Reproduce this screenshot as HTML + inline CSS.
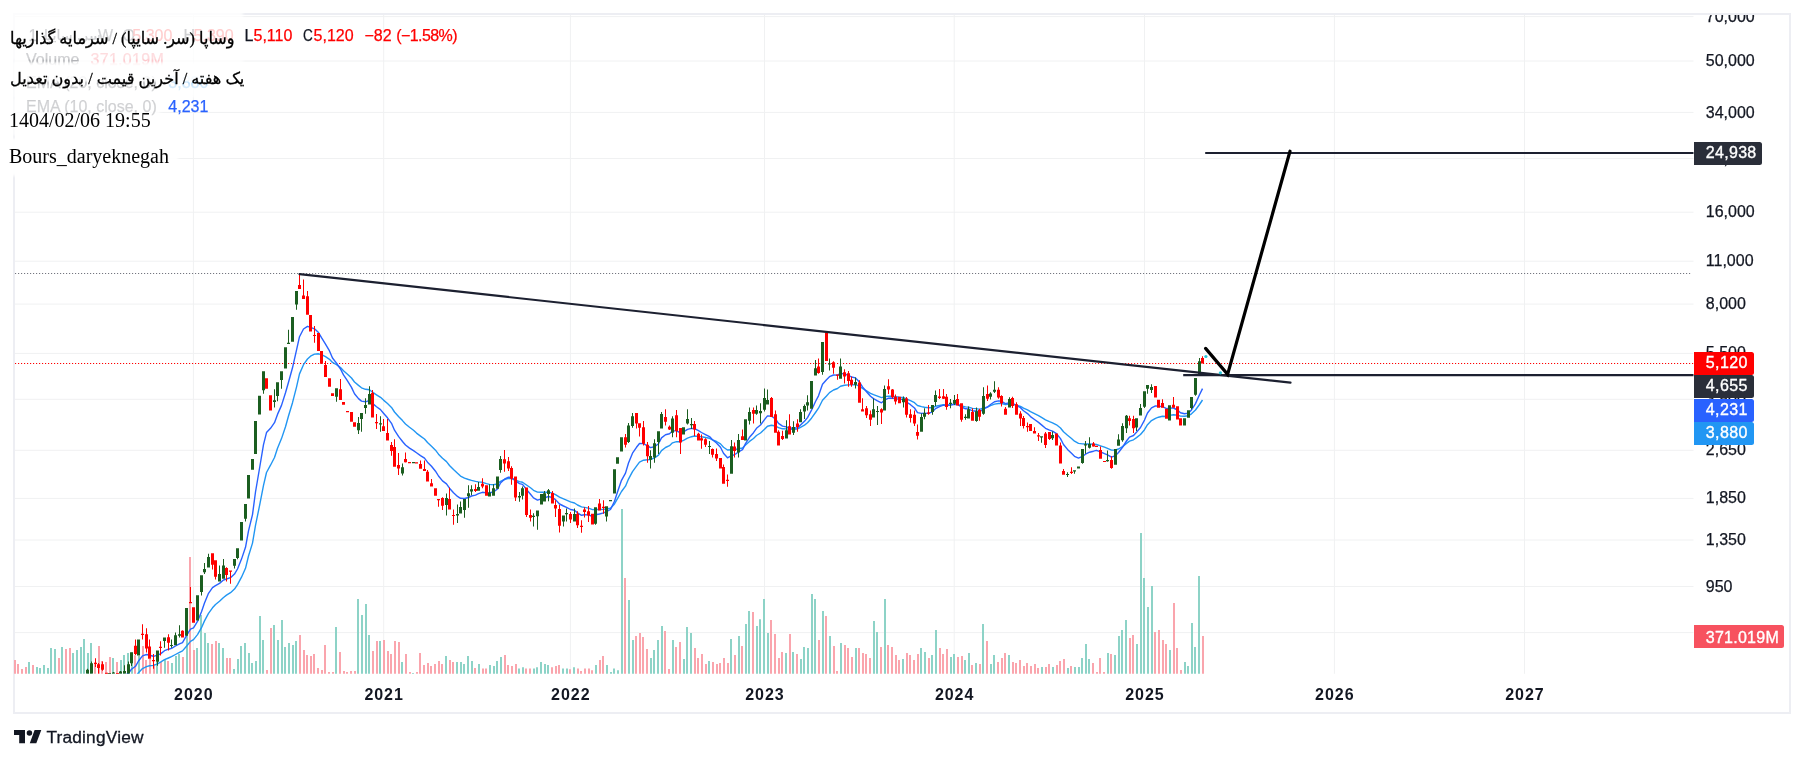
<!DOCTYPE html><html><head><meta charset="utf-8"><title>chart</title><style>

html,body{margin:0;padding:0;background:#fff;}
body{width:1804px;height:761px;position:relative;overflow:hidden;font-family:"Liberation Sans", Arial, sans-serif;color:#131722;}
.abs{position:absolute;white-space:nowrap;}
.frame{position:absolute;left:13px;top:13px;width:1774px;height:697px;border:2px solid #edeef3;box-sizing:content-box;}
.pl{position:absolute;left:1705.8px;font-size:16px;line-height:18px;height:18px;white-space:nowrap;color:#131722;-webkit-text-stroke:0.25px #131722;}
.tag{position:absolute;left:1694px;height:22.7px;border-radius:0 2.5px 2.5px 0;color:#fff;font-size:16px;line-height:22.7px;padding-left:11.8px;box-sizing:border-box;white-space:nowrap;overflow:hidden;-webkit-text-stroke:0.35px #fff;}
.yr{position:absolute;top:686.3px;font-size:16px;font-weight:bold;line-height:18px;width:60px;margin-left:-30px;text-align:center;letter-spacing:0.95px;color:#131722;}
.lg{position:absolute;font-size:16px;line-height:18px;white-space:nowrap;-webkit-text-stroke:0.25px;}
.ov{position:absolute;font-family:"Liberation Serif", "DejaVu Sans", serif;color:#000;white-space:nowrap;}
.fa{-webkit-text-stroke:0.3px #000;}
.fade{position:absolute;background:#fff;filter:blur(1.5px);}

</style></head><body>
<div class="frame"></div>
<div id="wrap" style="position:absolute;left:0;top:0;width:1804px;height:761px;will-change:transform;transform:translateZ(0)">
<svg width="1804" height="761" viewBox="0 0 1804 761" style="position:absolute;left:0;top:0">
<defs><clipPath id="pane"><rect x="15" y="15" width="1678.5" height="658.8"/></clipPath></defs>
<path d="M15 16.6H1693.5M15 61.0H1693.5M15 112.4H1693.5M15 158.5H1693.5M15 212.2H1693.5M15 261.2H1693.5M15 304.1H1693.5M15 353.4H1693.5M15 399.3H1693.5M15 450.3H1693.5M15 498.4H1693.5M15 540.0H1693.5M15 586.5H1693.5M15 632.6H1693.5M193.4 15V673.8M383.7 15V673.8M570.4 15V673.8M764.5 15V673.8M954.2 15V673.8M1144.5 15V673.8M1334.4 15V673.8M1524.5 15V673.8" stroke="#f0f1f2" stroke-width="1" fill="none"/>
<path d="M28 662.0h2V673.8h-2zM36 666.9h2V673.8h-2zM39 668.0h2V673.8h-2zM43 665.0h2V673.8h-2zM47 668.0h2V673.8h-2zM50 648.1h2V673.8h-2zM54 649.1h2V673.8h-2zM61 647.1h2V673.8h-2zM72 653.0h2V673.8h-2zM76 650.0h2V673.8h-2zM80 647.1h2V673.8h-2zM83 639.1h2V673.8h-2zM87 653.0h2V673.8h-2zM90 643.0h2V673.8h-2zM112 657.9h2V673.8h-2zM120 659.9h2V673.8h-2zM123 655.0h2V673.8h-2zM127 653.0h2V673.8h-2zM131 652.4h2V673.8h-2zM138 656.0h2V673.8h-2zM156 662.0h2V673.8h-2zM164 658.9h2V673.8h-2zM171 663.0h2V673.8h-2zM175 656.0h2V673.8h-2zM178 654.0h2V673.8h-2zM186 635.1h2V673.8h-2zM196 648.1h2V673.8h-2zM200 615.1h2V673.8h-2zM204 633.0h2V673.8h-2zM207 643.0h2V673.8h-2zM218 643.0h2V673.8h-2zM222 648.1h2V673.8h-2zM233 669.0h2V673.8h-2zM237 658.9h2V673.8h-2zM240 646.0h2V673.8h-2zM244 643.0h2V673.8h-2zM248 653.0h2V673.8h-2zM251 663.0h2V673.8h-2zM255 661.1h2V673.8h-2zM259 616.0h2V673.8h-2zM262 640.0h2V673.8h-2zM273 625.1h2V673.8h-2zM277 640.0h2V673.8h-2zM281 620.0h2V673.8h-2zM284 647.1h2V673.8h-2zM288 643.0h2V673.8h-2zM292 645.0h2V673.8h-2zM295 641.0h2V673.8h-2zM335 627.0h2V673.8h-2zM357 599.1h2V673.8h-2zM361 615.1h2V673.8h-2zM365 604.0h2V673.8h-2zM368 635.1h2V673.8h-2zM379 641.0h2V673.8h-2zM401 662.0h2V673.8h-2zM412 673.1h2V673.8h-2zM445 656.0h2V673.8h-2zM456 662.0h2V673.8h-2zM460 662.0h2V673.8h-2zM463 664.0h2V673.8h-2zM467 656.0h2V673.8h-2zM471 661.1h2V673.8h-2zM478 664.0h2V673.8h-2zM489 665.0h2V673.8h-2zM493 666.0h2V673.8h-2zM496 661.0h2V673.8h-2zM500 657.0h2V673.8h-2zM518 668.4h2V673.8h-2zM522 667.2h2V673.8h-2zM533 668.4h2V673.8h-2zM536 667.2h2V673.8h-2zM540 662.0h2V673.8h-2zM544 664.1h2V673.8h-2zM547 665.0h2V673.8h-2zM562 668.4h2V673.8h-2zM566 668.4h2V673.8h-2zM573 667.2h2V673.8h-2zM595 665.0h2V673.8h-2zM606 665.0h2V673.8h-2zM610 672.1h2V673.8h-2zM613 668.4h2V673.8h-2zM617 670.2h2V673.8h-2zM621 509.0h2V673.8h-2zM628 600.0h2V673.8h-2zM632 640.0h2V673.8h-2zM650 658.0h2V673.8h-2zM653 649.9h2V673.8h-2zM657 640.0h2V673.8h-2zM661 626.0h2V673.8h-2zM672 640.0h2V673.8h-2zM683 658.9h2V673.8h-2zM686 627.0h2V673.8h-2zM690 632.9h2V673.8h-2zM708 661.0h2V673.8h-2zM730 639.1h2V673.8h-2zM738 636.1h2V673.8h-2zM745 624.1h2V673.8h-2zM748 611.1h2V673.8h-2zM756 626.1h2V673.8h-2zM759 619.2h2V673.8h-2zM763 599.1h2V673.8h-2zM767 633.0h2V673.8h-2zM785 653.0h2V673.8h-2zM792 652.0h2V673.8h-2zM800 658.9h2V673.8h-2zM803 647.1h2V673.8h-2zM807 648.1h2V673.8h-2zM811 594.0h2V673.8h-2zM814 599.1h2V673.8h-2zM822 611.1h2V673.8h-2zM829 636.1h2V673.8h-2zM840 643.0h2V673.8h-2zM855 648.1h2V673.8h-2zM873 621.0h2V673.8h-2zM876 632.0h2V673.8h-2zM884 599.1h2V673.8h-2zM902 658.9h2V673.8h-2zM920 648.1h2V673.8h-2zM924 652.0h2V673.8h-2zM931 655.0h2V673.8h-2zM935 630.0h2V673.8h-2zM950 657.1h2V673.8h-2zM953 653.9h2V673.8h-2zM964 660.0h2V673.8h-2zM968 652.9h2V673.8h-2zM975 663.0h2V673.8h-2zM982 623.9h2V673.8h-2zM990 664.0h2V673.8h-2zM993 655.0h2V673.8h-2zM1008 655.0h2V673.8h-2zM1041 667.0h2V673.8h-2zM1052 667.0h2V673.8h-2zM1067 668.0h2V673.8h-2zM1074 667.0h2V673.8h-2zM1078 667.0h2V673.8h-2zM1081 657.9h2V673.8h-2zM1085 644.1h2V673.8h-2zM1088 659.0h2V673.8h-2zM1107 652.9h2V673.8h-2zM1114 655.0h2V673.8h-2zM1118 636.1h2V673.8h-2zM1121 630.0h2V673.8h-2zM1125 619.9h2V673.8h-2zM1136 644.1h2V673.8h-2zM1140 533.0h2V673.8h-2zM1143 578.0h2V673.8h-2zM1147 607.1h2V673.8h-2zM1151 586.0h2V673.8h-2zM1169 650.0h2V673.8h-2zM1184 661.9h2V673.8h-2zM1187 665.9h2V673.8h-2zM1191 623.0h2V673.8h-2zM1194 647.0h2V673.8h-2zM1198 575.9h2V673.8h-2z" fill="#8dd3c7"/>
<path d="M14 659.9h2V673.8h-2zM17 664.0h2V673.8h-2zM21 669.0h2V673.8h-2zM25 666.9h2V673.8h-2zM32 665.0h2V673.8h-2zM58 657.9h2V673.8h-2zM65 649.1h2V673.8h-2zM69 648.1h2V673.8h-2zM94 662.5h2V673.8h-2zM98 646.0h2V673.8h-2zM101 661.1h2V673.8h-2zM105 662.0h2V673.8h-2zM109 657.0h2V673.8h-2zM116 662.0h2V673.8h-2zM134 655.3h2V673.8h-2zM142 646.0h2V673.8h-2zM145 659.9h2V673.8h-2zM149 658.9h2V673.8h-2zM153 664.0h2V673.8h-2zM160 662.0h2V673.8h-2zM167 661.1h2V673.8h-2zM182 657.0h2V673.8h-2zM189 557.0h2V673.8h-2zM193 650.0h2V673.8h-2zM211 644.0h2V673.8h-2zM215 641.0h2V673.8h-2zM226 657.9h2V673.8h-2zM229 657.9h2V673.8h-2zM266 670.0h2V673.8h-2zM270 628.0h2V673.8h-2zM299 635.1h2V673.8h-2zM303 650.0h2V673.8h-2zM306 655.0h2V673.8h-2zM310 656.0h2V673.8h-2zM313 654.0h2V673.8h-2zM317 668.0h2V673.8h-2zM321 670.0h2V673.8h-2zM324 645.0h2V673.8h-2zM328 672.1h2V673.8h-2zM332 672.1h2V673.8h-2zM339 652.0h2V673.8h-2zM343 671.1h2V673.8h-2zM346 672.1h2V673.8h-2zM350 671.1h2V673.8h-2zM354 671.1h2V673.8h-2zM372 651.0h2V673.8h-2zM376 641.0h2V673.8h-2zM383 640.0h2V673.8h-2zM387 651.0h2V673.8h-2zM390 654.0h2V673.8h-2zM394 641.0h2V673.8h-2zM398 642.0h2V673.8h-2zM405 654.0h2V673.8h-2zM409 672.1h2V673.8h-2zM416 672.1h2V673.8h-2zM419 653.0h2V673.8h-2zM423 665.0h2V673.8h-2zM427 663.0h2V673.8h-2zM430 666.0h2V673.8h-2zM434 664.0h2V673.8h-2zM438 661.1h2V673.8h-2zM441 664.0h2V673.8h-2zM449 659.9h2V673.8h-2zM452 662.0h2V673.8h-2zM474 668.0h2V673.8h-2zM482 668.4h2V673.8h-2zM485 668.4h2V673.8h-2zM504 655.1h2V673.8h-2zM507 665.0h2V673.8h-2zM511 666.0h2V673.8h-2zM515 664.1h2V673.8h-2zM525 668.4h2V673.8h-2zM529 668.4h2V673.8h-2zM551 667.2h2V673.8h-2zM555 666.0h2V673.8h-2zM558 665.0h2V673.8h-2zM569 669.3h2V673.8h-2zM577 668.4h2V673.8h-2zM580 671.0h2V673.8h-2zM584 668.4h2V673.8h-2zM588 668.4h2V673.8h-2zM591 670.2h2V673.8h-2zM599 660.1h2V673.8h-2zM602 656.1h2V673.8h-2zM624 578.0h2V673.8h-2zM635 636.0h2V673.8h-2zM639 632.9h2V673.8h-2zM642 636.9h2V673.8h-2zM646 649.0h2V673.8h-2zM664 631.0h2V673.8h-2zM668 669.1h2V673.8h-2zM675 647.1h2V673.8h-2zM679 641.9h2V673.8h-2zM694 648.0h2V673.8h-2zM697 658.0h2V673.8h-2zM701 653.9h2V673.8h-2zM705 664.1h2V673.8h-2zM712 662.0h2V673.8h-2zM716 664.0h2V673.8h-2zM719 663.0h2V673.8h-2zM723 657.9h2V673.8h-2zM727 663.0h2V673.8h-2zM734 655.0h2V673.8h-2zM741 646.0h2V673.8h-2zM752 612.1h2V673.8h-2zM770 620.0h2V673.8h-2zM774 634.0h2V673.8h-2zM778 657.9h2V673.8h-2zM781 652.0h2V673.8h-2zM789 634.0h2V673.8h-2zM796 654.0h2V673.8h-2zM818 640.0h2V673.8h-2zM825 616.1h2V673.8h-2zM833 646.0h2V673.8h-2zM836 671.1h2V673.8h-2zM844 645.0h2V673.8h-2zM847 648.1h2V673.8h-2zM851 657.0h2V673.8h-2zM858 648.1h2V673.8h-2zM862 653.0h2V673.8h-2zM865 654.0h2V673.8h-2zM869 657.9h2V673.8h-2zM880 647.1h2V673.8h-2zM887 645.0h2V673.8h-2zM891 647.1h2V673.8h-2zM895 655.0h2V673.8h-2zM898 659.9h2V673.8h-2zM906 653.0h2V673.8h-2zM909 655.0h2V673.8h-2zM913 659.9h2V673.8h-2zM917 654.0h2V673.8h-2zM928 657.9h2V673.8h-2zM939 648.1h2V673.8h-2zM942 654.0h2V673.8h-2zM946 649.1h2V673.8h-2zM957 657.1h2V673.8h-2zM961 656.1h2V673.8h-2zM971 665.1h2V673.8h-2zM979 664.0h2V673.8h-2zM986 640.9h2V673.8h-2zM997 661.9h2V673.8h-2zM1001 657.9h2V673.8h-2zM1004 652.9h2V673.8h-2zM1012 661.9h2V673.8h-2zM1015 663.0h2V673.8h-2zM1019 660.0h2V673.8h-2zM1023 665.9h2V673.8h-2zM1026 663.0h2V673.8h-2zM1030 665.9h2V673.8h-2zM1034 664.0h2V673.8h-2zM1037 668.0h2V673.8h-2zM1045 667.0h2V673.8h-2zM1048 664.0h2V673.8h-2zM1056 665.1h2V673.8h-2zM1059 660.9h2V673.8h-2zM1063 659.0h2V673.8h-2zM1070 665.9h2V673.8h-2zM1092 663.0h2V673.8h-2zM1096 672.0h2V673.8h-2zM1099 657.9h2V673.8h-2zM1103 672.0h2V673.8h-2zM1110 653.9h2V673.8h-2zM1129 638.0h2V673.8h-2zM1132 635.0h2V673.8h-2zM1154 632.1h2V673.8h-2zM1158 630.0h2V673.8h-2zM1162 640.1h2V673.8h-2zM1165 644.1h2V673.8h-2zM1173 603.1h2V673.8h-2zM1176 648.1h2V673.8h-2zM1180 669.9h2V673.8h-2zM1202 636.1h2V673.8h-2z" fill="#faa5ad"/>
<path d="M15 273.5H1692" stroke="#74767f" stroke-width="1.15" stroke-dasharray="1.15 1.85" fill="none"/>
<path d="M15 363.5H1693.5" stroke="#ff0000" stroke-width="1.15" stroke-dasharray="1.15 1.85" fill="none"/>
<g clip-path="url(#pane)">
<polyline points="69.5,721.2 73.5,721.1 76.5,720.8 80.5,720.1 84.5,718.1 87.5,712.6 91.5,707.1 95.5,702.3 98.5,698.6 102.5,695.6 106.5,693.3 109.5,691.3 113.5,689.4 117.5,687.8 120.5,686.2 124.5,684.7 128.5,682.6 131.5,679.4 135.5,676.8 138.5,672.7 142.5,668.6 146.5,666.6 149.5,665.8 153.5,665.4 157.5,663.9 160.5,662.2 164.5,659.7 168.5,658.0 171.5,656.7 175.5,654.5 179.5,652.4 182.5,650.9 186.5,646.2 190.5,641.4 193.5,639.6 197.5,634.6 201.5,627.7 204.5,620.9 208.5,613.3 212.5,607.8 215.5,604.5 219.5,601.3 223.5,597.5 226.5,595.1 230.5,592.7 234.5,589.1 237.5,584.6 241.5,577.2 245.5,568.3 248.5,556.0 252.5,543.1 255.5,525.3 259.5,505.9 263.5,485.4 266.5,472.5 270.5,465.2 274.5,457.5 277.5,448.2 281.5,438.6 285.5,426.7 288.5,416.0 292.5,402.7 296.5,387.1 299.5,373.9 303.5,364.7 307.5,359.0 310.5,356.2 314.5,354.1 318.5,353.8 321.5,354.7 325.5,356.7 329.5,359.3 332.5,362.4 336.5,364.6 340.5,367.6 343.5,370.8 347.5,374.2 351.5,378.0 354.5,382.0 358.5,385.4 361.5,387.8 365.5,389.3 369.5,389.8 372.5,392.2 376.5,394.8 380.5,397.3 383.5,400.1 387.5,403.5 391.5,407.4 394.5,412.0 398.5,416.5 402.5,420.6 405.5,424.0 409.5,427.3 413.5,430.3 416.5,433.1 420.5,436.1 424.5,439.0 427.5,442.5 431.5,446.2 435.5,450.2 438.5,454.2 442.5,458.3 446.5,461.6 449.5,465.5 453.5,469.6 457.5,473.2 460.5,476.1 464.5,478.1 468.5,479.5 471.5,480.4 475.5,481.4 478.5,481.9 482.5,482.3 486.5,483.6 489.5,484.4 493.5,484.8 497.5,483.9 500.5,481.3 504.5,479.5 508.5,478.4 511.5,478.5 515.5,480.2 519.5,481.6 522.5,482.2 526.5,485.0 530.5,487.8 533.5,490.3 537.5,492.1 541.5,492.2 544.5,492.3 548.5,492.1 552.5,493.2 555.5,494.6 559.5,497.2 563.5,498.9 566.5,500.2 570.5,501.9 574.5,503.0 577.5,505.0 581.5,506.9 584.5,507.4 588.5,508.1 592.5,509.6 595.5,509.4 599.5,509.5 603.5,509.3 606.5,509.0 610.5,508.2 614.5,503.9 617.5,498.7 621.5,491.5 625.5,486.2 628.5,479.1 632.5,471.6 636.5,466.2 639.5,462.1 643.5,460.2 647.5,459.8 650.5,459.5 654.5,457.8 658.5,455.1 661.5,450.6 665.5,447.5 669.5,445.7 672.5,442.8 676.5,441.7 680.5,441.7 683.5,440.3 687.5,438.1 691.5,436.7 694.5,436.0 698.5,436.4 701.5,436.8 705.5,437.5 709.5,438.3 712.5,439.8 716.5,441.5 720.5,443.9 723.5,447.2 727.5,450.0 731.5,449.7 734.5,449.8 738.5,448.8 742.5,448.0 745.5,445.0 749.5,441.4 753.5,438.5 756.5,435.5 760.5,433.0 764.5,429.3 767.5,426.2 771.5,425.3 775.5,426.0 778.5,427.7 782.5,428.8 786.5,428.9 789.5,429.4 793.5,429.2 797.5,429.0 800.5,427.3 804.5,425.1 807.5,422.8 811.5,418.2 815.5,412.5 818.5,408.2 822.5,400.3 826.5,396.0 829.5,392.6 833.5,390.0 837.5,388.5 840.5,386.3 844.5,385.3 848.5,384.9 851.5,384.9 855.5,384.6 859.5,386.2 862.5,388.4 866.5,390.8 870.5,393.3 873.5,394.7 877.5,396.2 881.5,397.7 884.5,396.8 888.5,396.1 892.5,396.2 895.5,396.7 899.5,397.3 903.5,397.4 906.5,399.0 910.5,400.7 914.5,402.7 917.5,405.5 921.5,406.6 924.5,407.2 928.5,407.8 932.5,407.5 935.5,406.3 939.5,405.5 943.5,404.8 946.5,405.0 950.5,404.8 954.5,404.4 957.5,404.5 961.5,405.9 965.5,406.9 968.5,407.1 972.5,408.4 976.5,408.6 979.5,409.4 983.5,408.0 987.5,407.1 990.5,405.7 994.5,404.1 998.5,403.5 1001.5,403.5 1005.5,404.5 1009.5,404.0 1012.5,404.2 1016.5,405.1 1020.5,406.3 1023.5,408.1 1027.5,409.8 1030.5,411.6 1034.5,413.6 1038.5,415.6 1041.5,417.4 1045.5,419.8 1049.5,421.6 1052.5,422.8 1056.5,424.8 1060.5,428.0 1063.5,431.8 1067.5,435.3 1071.5,438.5 1074.5,441.2 1078.5,443.4 1082.5,443.9 1085.5,444.0 1089.5,444.0 1093.5,444.2 1096.5,444.5 1100.5,445.8 1104.5,447.2 1107.5,448.4 1111.5,450.1 1115.5,450.0 1118.5,449.0 1122.5,446.6 1126.5,443.4 1129.5,441.1 1133.5,439.8 1136.5,437.6 1140.5,434.5 1144.5,429.7 1147.5,424.7 1151.5,420.6 1155.5,418.3 1158.5,417.2 1162.5,416.3 1166.5,416.5 1169.5,415.4 1173.5,414.7 1177.5,415.1 1180.5,416.1 1184.5,416.3 1188.5,415.7 1191.5,413.8 1195.5,410.0 1199.5,404.5 1202.5,400.0" fill="none" stroke="#2196f3" stroke-width="1.4" stroke-linejoin="round"/>
<polyline points="69.5,719.9 73.5,719.9 76.5,719.6 80.5,718.5 84.5,715.0 87.5,705.5 91.5,696.8 95.5,690.1 98.5,685.8 102.5,682.7 106.5,681.1 109.5,679.6 113.5,678.3 117.5,677.5 120.5,676.4 124.5,675.4 128.5,673.3 131.5,669.2 135.5,666.3 138.5,661.0 142.5,655.9 146.5,654.5 149.5,655.3 153.5,656.3 157.5,655.2 160.5,653.9 164.5,650.7 168.5,649.2 171.5,648.4 175.5,646.0 179.5,643.8 182.5,642.6 186.5,635.6 190.5,629.1 193.5,627.9 197.5,621.4 201.5,611.7 204.5,602.9 208.5,593.3 212.5,587.6 215.5,585.6 219.5,583.4 223.5,580.0 226.5,579.0 230.5,577.7 234.5,574.1 237.5,569.0 241.5,559.1 245.5,547.3 248.5,530.9 252.5,514.6 255.5,492.0 259.5,468.5 263.5,444.7 266.5,432.6 270.5,428.3 274.5,422.7 277.5,414.4 281.5,405.4 285.5,392.8 288.5,382.3 292.5,367.8 296.5,350.2 299.5,336.7 303.5,329.0 307.5,326.3 310.5,327.3 314.5,328.8 318.5,332.6 321.5,337.7 325.5,344.1 329.5,350.9 332.5,358.0 336.5,363.1 340.5,369.0 343.5,374.9 347.5,380.9 351.5,387.4 354.5,393.8 358.5,398.6 361.5,401.1 365.5,401.8 369.5,400.4 372.5,403.4 376.5,406.7 380.5,409.6 383.5,413.2 387.5,417.8 391.5,423.3 394.5,430.2 398.5,436.4 402.5,441.5 405.5,445.0 409.5,448.1 413.5,450.6 416.5,452.8 420.5,455.6 424.5,458.2 427.5,462.2 431.5,466.3 435.5,471.2 438.5,476.0 442.5,480.9 446.5,483.9 449.5,488.2 453.5,492.8 457.5,496.4 460.5,498.3 464.5,498.5 468.5,497.5 471.5,496.0 475.5,495.1 478.5,493.6 482.5,492.3 486.5,492.9 489.5,492.8 493.5,492.0 497.5,489.0 500.5,483.0 504.5,479.2 508.5,477.2 511.5,477.5 515.5,480.9 519.5,483.6 522.5,484.4 526.5,489.5 530.5,494.2 533.5,497.9 537.5,500.1 541.5,498.9 544.5,497.9 548.5,496.5 552.5,497.7 555.5,499.6 559.5,504.0 563.5,506.0 566.5,507.3 570.5,509.5 574.5,510.3 577.5,512.9 581.5,515.3 584.5,514.7 588.5,514.9 592.5,516.5 595.5,514.8 599.5,514.0 603.5,512.8 606.5,511.6 610.5,509.5 614.5,501.2 617.5,492.0 621.5,480.3 625.5,473.1 628.5,463.0 632.5,453.2 636.5,447.3 639.5,443.5 643.5,443.6 647.5,445.8 650.5,447.6 654.5,446.8 658.5,443.8 661.5,437.9 665.5,434.8 669.5,433.8 672.5,430.9 676.5,430.9 680.5,432.9 683.5,431.9 687.5,429.4 691.5,428.4 694.5,428.6 698.5,430.7 701.5,432.5 705.5,434.6 709.5,436.6 712.5,439.8 716.5,443.0 720.5,447.3 723.5,453.2 727.5,457.8 731.5,455.6 734.5,454.8 738.5,452.0 742.5,449.7 745.5,443.6 749.5,437.3 753.5,432.7 756.5,428.3 760.5,425.0 764.5,419.7 767.5,415.9 771.5,416.1 775.5,419.0 778.5,423.4 782.5,426.1 786.5,426.9 789.5,428.2 793.5,428.0 797.5,427.9 800.5,424.9 804.5,421.2 807.5,417.6 811.5,410.2 815.5,401.5 818.5,395.8 822.5,384.3 826.5,379.7 829.5,376.7 833.5,375.0 837.5,375.1 840.5,373.4 844.5,374.0 848.5,375.3 851.5,377.0 855.5,377.9 859.5,382.0 862.5,386.9 866.5,391.7 870.5,396.3 873.5,398.6 877.5,400.8 881.5,402.8 884.5,400.2 888.5,398.2 892.5,398.0 895.5,398.6 899.5,399.4 903.5,399.3 906.5,402.0 910.5,404.7 914.5,408.0 917.5,412.6 921.5,413.4 924.5,413.3 928.5,413.4 932.5,411.9 935.5,408.6 939.5,406.6 943.5,405.2 946.5,405.5 950.5,405.0 954.5,404.1 957.5,404.4 961.5,407.0 965.5,408.8 968.5,408.9 972.5,411.0 976.5,411.0 979.5,412.0 983.5,408.9 987.5,407.0 990.5,404.5 994.5,401.7 998.5,400.9 1001.5,401.3 1005.5,403.6 1009.5,402.8 1012.5,403.4 1016.5,405.3 1020.5,407.7 1023.5,410.8 1027.5,413.6 1030.5,416.6 1034.5,419.5 1038.5,422.4 1041.5,424.9 1045.5,428.3 1049.5,430.2 1052.5,431.1 1056.5,433.6 1060.5,438.6 1063.5,444.5 1067.5,449.4 1071.5,453.3 1074.5,456.3 1078.5,458.1 1082.5,456.4 1085.5,454.2 1089.5,452.2 1093.5,451.2 1096.5,450.3 1100.5,451.8 1104.5,453.6 1107.5,454.8 1111.5,457.1 1115.5,455.6 1118.5,452.5 1122.5,447.3 1126.5,441.0 1129.5,437.1 1133.5,435.5 1136.5,432.2 1140.5,427.5 1144.5,420.1 1147.5,413.0 1151.5,407.9 1155.5,405.9 1158.5,406.3 1162.5,406.5 1166.5,408.7 1169.5,408.1 1173.5,408.0 1177.5,410.0 1180.5,412.7 1184.5,413.7 1188.5,413.1 1191.5,410.0 1195.5,403.6 1199.5,394.8 1202.5,388.6" fill="none" stroke="#2962ff" stroke-width="1.4" stroke-linejoin="round"/>
<path d="M24 725.0h3V727.0h-3zM25 722.0h1V725.0h-1zM25 727.0h1V730.0h-1zM28 720.0h3V725.0h-3zM29 717.0h1V720.0h-1zM29 725.0h1V728.0h-1zM42 725.0h3V728.0h-3zM43 722.0h1V725.0h-1zM43 728.0h1V731.0h-1zM50 720.0h3V727.0h-3zM51 717.0h1V720.0h-1zM51 727.0h1V730.0h-1zM53 718.0h3V720.0h-3zM54 715.0h1V718.0h-1zM54 720.0h1V723.0h-1zM61 716.0h3V722.0h-3zM62 713.0h1V716.0h-1zM62 722.0h1V725.0h-1zM68 716.0h3V718.0h-3zM69 713.0h1V716.0h-1zM69 718.0h1V721.0h-1zM75 718.0h3V720.0h-3zM76 715.0h1V718.0h-1zM76 720.0h1V723.0h-1zM79 714.0h3V718.0h-3zM80 711.0h1V714.0h-1zM80 718.0h1V721.0h-1zM83 700.0h3V714.0h-3zM84 697.0h1V700.0h-1zM84 714.0h1V717.0h-1zM86 669.8h3V673.8h-3zM87 668.8h1V669.8h-1zM90 663.3h3V673.8h-3zM91 661.5h1V663.3h-1zM108 672.9h3V674.1h-3zM112 672.5h3V673.8h-3zM113 672.1h1V672.5h-1zM119 671.6h3V673.8h-3zM120 671.0h1V671.6h-1zM123 671.0h3V673.8h-3zM124 665.2h1V671.0h-1zM127 664.2h3V673.8h-3zM128 661.5h1V664.2h-1zM130 652.3h3V663.3h-3zM131 663.3h1V666.1h-1zM137 639.4h3V655.6h-3zM156 650.4h3V661.8h-3zM157 661.8h1V665.7h-1zM163 637.5h3V640.9h-3zM164 640.9h1V647.7h-1zM170 644.9h3V646.1h-3zM171 639.4h1V644.9h-1zM171 646.1h1V647.7h-1zM174 635.3h3V645.3h-3zM175 632.6h1V635.3h-1zM178 634.2h3V635.7h-3zM179 625.2h1V634.2h-1zM179 635.7h1V637.5h-1zM185 608.1h3V635.7h-3zM196 595.2h3V620.6h-3zM200 575.3h3V591.9h-3zM201 591.9h1V595.6h-1zM203 569.1h3V572.2h-3zM204 563.0h1V569.1h-1zM204 572.2h1V574.0h-1zM207 556.9h3V567.6h-3zM208 553.8h1V556.9h-1zM218 574.0h3V581.4h-3zM219 565.4h1V574.0h-1zM222 565.4h3V578.7h-3zM223 559.0h1V565.4h-1zM233 559.0h3V565.8h-3zM234 565.8h1V568.5h-1zM236 548.3h3V558.0h-3zM237 558.0h1V559.3h-1zM240 522.0h3V540.4h-3zM244 504.1h3V518.7h-3zM245 518.7h1V521.6h-1zM247 475.1h3V498.6h-3zM251 459.0h3V469.7h-3zM254 421.1h3V453.9h-3zM258 395.7h3V414.6h-3zM262 371.2h3V390.2h-3zM263 390.2h1V393.8h-1zM273 400.3h3V402.1h-3zM274 389.2h1V400.3h-1zM274 402.1h1V407.6h-1zM276 382.2h3V396.0h-3zM277 396.0h1V401.2h-1zM280 371.2h3V380.0h-3zM281 380.0h1V388.7h-1zM284 347.3h3V368.6h-3zM287 342.8h3V344.0h-3zM288 329.8h1V342.8h-1zM291 317.1h3V341.7h-3zM295 291.1h3V304.6h-3zM296 304.6h1V309.7h-1zM335 388.3h3V396.8h-3zM336 396.8h1V401.7h-1zM357 423.0h3V430.3h-3zM358 417.1h1V423.0h-1zM358 430.3h1V434.0h-1zM360 413.0h3V418.9h-3zM361 418.9h1V431.8h-1zM364 405.1h3V407.9h-3zM365 398.3h1V405.1h-1zM365 407.9h1V413.8h-1zM368 394.1h3V404.6h-3zM369 386.2h1V394.1h-1zM379 423.2h3V424.4h-3zM380 416.2h1V423.2h-1zM380 424.4h1V431.8h-1zM401 467.2h3V473.6h-3zM402 463.5h1V467.2h-1zM402 473.6h1V475.5h-1zM412 462.1h3V463.3h-3zM445 498.1h3V504.9h-3zM446 493.5h1V498.1h-1zM446 504.9h1V515.6h-1zM456 514.1h3V515.6h-3zM457 504.4h1V514.1h-1zM457 515.6h1V522.9h-1zM459 507.1h3V513.6h-3zM460 501.6h1V507.1h-1zM463 499.0h3V509.9h-3zM464 509.9h1V517.8h-1zM467 493.3h3V496.3h-3zM468 485.2h1V493.3h-1zM468 496.3h1V507.7h-1zM470 489.3h3V491.5h-3zM471 485.2h1V489.3h-1zM471 491.5h1V495.3h-1zM477 487.1h3V490.7h-3zM478 481.9h1V487.1h-1zM488 492.6h3V496.6h-3zM489 484.3h1V492.6h-1zM492 488.3h3V495.7h-3zM493 484.3h1V488.3h-1zM496 476.4h3V488.7h-3zM499 458.9h3V469.9h-3zM500 456.1h1V458.9h-1zM500 469.9h1V472.7h-1zM518 496.1h3V497.5h-3zM519 492.0h1V496.1h-1zM519 497.5h1V501.8h-1zM521 488.3h3V495.7h-3zM522 486.5h1V488.3h-1zM522 495.7h1V499.4h-1zM532 515.7h3V516.9h-3zM533 513.2h1V515.7h-1zM533 516.9h1V526.6h-1zM536 510.4h3V516.3h-3zM537 516.3h1V529.8h-1zM540 493.9h3V504.5h-3zM543 493.3h3V501.6h-3zM544 491.1h1V493.3h-1zM547 490.2h3V493.9h-3zM548 488.9h1V490.2h-1zM548 493.9h1V501.2h-1zM562 515.4h3V521.5h-3zM563 521.5h1V526.6h-1zM565 513.0h3V514.2h-3zM566 508.6h1V513.0h-1zM566 514.2h1V521.5h-1zM573 514.1h3V521.5h-3zM574 508.6h1V514.1h-1zM594 507.3h3V523.8h-3zM595 523.8h1V524.8h-1zM605 506.3h3V516.5h-3zM606 516.5h1V521.6h-1zM609 500.0h3V501.2h-3zM613 469.2h3V493.5h-3zM616 457.2h3V463.7h-3zM620 437.3h3V451.5h-3zM627 425.4h3V441.9h-3zM628 423.0h1V425.4h-1zM628 441.9h1V442.9h-1zM631 416.2h3V425.9h-3zM632 413.0h1V416.2h-1zM632 425.9h1V427.8h-1zM649 456.1h3V459.8h-3zM650 450.2h1V456.1h-1zM650 459.8h1V468.6h-1zM653 443.2h3V457.6h-3zM654 439.2h1V443.2h-1zM654 457.6h1V462.7h-1zM657 431.3h3V441.9h-3zM658 441.9h1V453.9h-1zM660 414.0h3V428.5h-3zM661 411.9h1V414.0h-1zM671 418.4h3V432.7h-3zM672 416.2h1V418.4h-1zM672 432.7h1V437.3h-1zM682 427.2h3V434.6h-3zM686 418.9h3V423.5h-3zM687 409.2h1V418.9h-1zM687 423.5h1V424.4h-1zM690 424.0h3V425.2h-3zM691 418.0h1V424.0h-1zM691 425.2h1V429.0h-1zM708 445.9h3V447.1h-3zM709 441.0h1V445.9h-1zM709 447.1h1V453.9h-1zM730 446.2h3V473.8h-3zM731 440.1h1V446.2h-1zM737 440.1h3V452.4h-3zM738 434.0h1V440.1h-1zM738 452.4h1V457.6h-1zM744 419.2h3V440.4h-3zM748 411.9h3V420.7h-3zM749 407.5h1V411.9h-1zM749 420.7h1V424.4h-1zM755 410.0h3V413.7h-3zM756 405.6h1V410.0h-1zM756 413.7h1V414.8h-1zM759 411.1h3V413.3h-3zM760 403.2h1V411.1h-1zM760 413.3h1V423.5h-1zM763 398.1h3V409.7h-3zM764 388.5h1V398.1h-1zM764 409.7h1V411.5h-1zM766 400.1h3V404.5h-3zM767 389.4h1V400.1h-1zM785 430.3h3V438.6h-3zM786 420.3h1V430.3h-1zM792 427.1h3V432.7h-3zM793 421.3h1V427.1h-1zM793 432.7h1V434.9h-1zM799 412.1h3V422.2h-3zM800 409.3h1V412.1h-1zM803 406.0h3V411.5h-3zM804 404.5h1V406.0h-1zM804 411.5h1V418.9h-1zM806 402.3h3V405.6h-3zM807 395.3h1V402.3h-1zM807 405.6h1V410.6h-1zM810 381.1h3V408.7h-3zM814 368.3h3V375.6h-3zM815 360.0h1V368.3h-1zM821 342.1h3V371.9h-3zM822 371.9h1V374.7h-1zM828 363.4h3V364.6h-3zM829 358.5h1V363.4h-1zM829 364.6h1V370.6h-1zM839 366.4h3V378.7h-3zM840 358.5h1V366.4h-1zM854 382.1h3V384.8h-3zM855 377.5h1V382.1h-1zM855 384.8h1V388.5h-1zM872 409.3h3V417.6h-3zM873 398.6h1V409.3h-1zM876 410.9h3V412.1h-3zM877 406.0h1V410.9h-1zM877 412.1h1V424.9h-1zM883 389.0h3V410.6h-3zM884 385.4h1V389.0h-1zM902 398.6h3V402.3h-3zM903 396.4h1V398.6h-1zM903 402.3h1V407.5h-1zM920 417.1h3V431.8h-3zM921 413.4h1V417.1h-1zM923 413.0h3V416.7h-3zM924 408.2h1V413.0h-1zM924 416.7h1V419.3h-1zM931 405.1h3V411.9h-3zM932 411.9h1V414.7h-1zM934 395.0h3V402.0h-3zM935 390.4h1V395.0h-1zM935 402.0h1V406.0h-1zM949 402.8h3V404.0h-3zM950 399.0h1V402.8h-1zM950 404.0h1V408.2h-1zM953 400.1h3V403.8h-3zM954 395.0h1V400.1h-1zM954 403.8h1V405.1h-1zM964 416.8h3V418.0h-3zM965 414.3h1V416.8h-1zM965 418.0h1V419.8h-1zM967 409.3h3V418.5h-3zM968 406.4h1V409.3h-1zM975 411.2h3V421.1h-3zM976 407.5h1V411.2h-1zM976 421.1h1V421.7h-1zM982 395.9h3V413.7h-3zM983 387.2h1V395.9h-1zM983 413.7h1V414.7h-1zM989 393.5h3V396.8h-3zM990 392.2h1V393.5h-1zM990 396.8h1V399.6h-1zM993 389.8h3V391.7h-3zM994 381.2h1V389.8h-1zM994 391.7h1V393.1h-1zM1008 399.0h3V407.5h-3zM1009 397.2h1V399.0h-1zM1040 436.3h3V437.5h-3zM1041 437.5h1V442.8h-1zM1051 435.1h3V438.2h-3zM1052 431.4h1V435.1h-1zM1052 438.2h1V440.1h-1zM1066 473.9h3V475.1h-3zM1067 472.3h1V473.9h-1zM1067 475.1h1V476.9h-1zM1073 470.2h3V471.4h-3zM1074 471.4h1V473.7h-1zM1077 466.4h3V468.6h-3zM1081 449.1h3V462.9h-3zM1082 462.9h1V463.7h-1zM1084 444.3h3V445.5h-3zM1085 440.9h1V444.3h-1zM1085 445.5h1V453.7h-1zM1088 444.0h3V447.7h-3zM1089 437.2h1V444.0h-1zM1089 447.7h1V448.6h-1zM1106 460.0h3V461.2h-3zM1107 450.4h1V460.0h-1zM1107 461.2h1V461.8h-1zM1114 449.1h3V464.8h-3zM1117 439.4h3V445.8h-3zM1118 434.2h1V439.4h-1zM1121 426.1h3V440.3h-3zM1122 423.2h1V426.1h-1zM1122 440.3h1V441.8h-1zM1125 415.8h3V428.3h-3zM1126 414.9h1V415.8h-1zM1126 428.3h1V432.9h-1zM1135 418.2h3V427.4h-3zM1136 427.4h1V431.1h-1zM1139 408.1h3V415.5h-3zM1140 404.0h1V408.1h-1zM1143 391.2h3V406.8h-3zM1144 406.8h1V408.1h-1zM1146 385.1h3V388.8h-3zM1147 388.8h1V393.7h-1zM1150 386.9h3V390.1h-3zM1151 384.2h1V386.9h-1zM1151 390.1h1V393.0h-1zM1168 405.3h3V420.6h-3zM1183 418.2h3V425.6h-3zM1187 410.3h3V417.7h-3zM1190 397.1h3V408.1h-3zM1191 408.1h1V409.6h-1zM1194 378.1h3V394.7h-3zM1195 394.7h1V395.8h-1zM1198 361.2h3V375.0h-3zM1199 358.0h1V361.2h-1z" fill="#1b5e20"/><path d="M13 701.0h3V722.0h-3zM14 698.0h1V701.0h-1zM14 722.0h1V725.0h-1zM17 722.0h3V724.0h-3zM18 719.0h1V722.0h-1zM18 724.0h1V727.0h-1zM21 724.0h3V727.0h-3zM22 721.0h1V724.0h-1zM22 727.0h1V730.0h-1zM31 720.0h3V722.0h-3zM32 717.0h1V720.0h-1zM32 722.0h1V725.0h-1zM35 722.0h3V726.0h-3zM36 719.0h1V722.0h-1zM36 726.0h1V729.0h-1zM39 726.0h3V728.0h-3zM40 723.0h1V726.0h-1zM40 728.0h1V731.0h-1zM46 725.0h3V727.0h-3zM47 722.0h1V725.0h-1zM47 727.0h1V730.0h-1zM57 718.0h3V722.0h-3zM58 715.0h1V718.0h-1zM58 722.0h1V725.0h-1zM64 716.0h3V718.0h-3zM65 713.0h1V716.0h-1zM65 718.0h1V721.0h-1zM72 716.0h3V720.0h-3zM73 713.0h1V716.0h-1zM73 720.0h1V723.0h-1zM94 662.7h3V663.9h-3zM95 658.2h1V662.7h-1zM95 663.9h1V667.0h-1zM97 664.2h3V667.9h-3zM98 662.9h1V664.2h-1zM98 667.9h1V673.8h-1zM101 664.2h3V669.8h-3zM102 661.5h1V664.2h-1zM102 669.8h1V670.7h-1zM105 672.7h3V673.9h-3zM116 672.9h3V674.1h-3zM134 645.8h3V654.1h-3zM135 639.4h1V645.8h-1zM135 654.1h1V655.0h-1zM141 633.8h3V635.0h-3zM142 624.3h1V633.8h-1zM142 635.0h1V639.4h-1zM145 634.2h3V648.6h-3zM146 628.3h1V634.2h-1zM146 648.6h1V652.6h-1zM148 646.4h3V658.7h-3zM149 639.4h1V646.4h-1zM152 660.0h3V661.2h-3zM153 654.1h1V660.0h-1zM153 661.2h1V668.8h-1zM159 646.7h3V647.9h-3zM160 641.2h1V646.7h-1zM160 647.9h1V655.6h-1zM167 637.2h3V642.7h-3zM168 634.2h1V637.2h-1zM168 642.7h1V650.4h-1zM181 630.7h3V637.5h-3zM182 630.2h1V630.7h-1zM189 602.1h3V603.3h-3zM190 586.9h1V602.1h-1zM192 607.2h3V622.8h-3zM211 553.3h3V564.8h-3zM212 564.8h1V569.4h-1zM214 560.2h3V576.8h-3zM215 576.8h1V579.6h-1zM225 568.0h3V575.0h-3zM226 567.2h1V568.0h-1zM226 575.0h1V581.4h-1zM229 570.4h3V571.7h-3zM230 571.7h1V583.8h-1zM265 378.2h3V388.7h-3zM269 395.3h3V410.4h-3zM298 284.9h3V288.9h-3zM299 274.2h1V284.9h-1zM302 295.4h3V299.0h-3zM303 279.4h1V295.4h-1zM306 296.3h3V314.7h-3zM307 291.1h1V296.3h-1zM309 315.1h3V331.6h-3zM313 334.9h3V336.1h-3zM314 326.1h1V334.9h-1zM314 336.1h1V342.7h-1zM317 333.1h3V351.0h-3zM320 351.1h3V363.8h-3zM324 364.9h3V376.9h-3zM325 361.1h1V364.9h-1zM328 378.2h3V386.8h-3zM331 393.3h3V396.0h-3zM339 389.2h3V399.9h-3zM340 379.1h1V389.2h-1zM342 402.0h3V404.8h-3zM346 411.0h3V412.2h-3zM350 412.1h3V421.7h-3zM353 422.2h3V426.7h-3zM371 393.0h3V417.6h-3zM372 390.0h1V393.0h-1zM375 422.0h3V423.2h-3zM376 414.0h1V422.0h-1zM376 423.2h1V429.0h-1zM382 426.3h3V430.9h-3zM383 418.9h1V426.3h-1zM386 433.1h3V440.6h-3zM387 418.9h1V433.1h-1zM390 445.1h3V451.1h-3zM391 441.9h1V445.1h-1zM391 451.1h1V455.7h-1zM393 447.1h3V466.8h-3zM394 439.2h1V447.1h-1zM397 464.9h3V468.6h-3zM398 453.0h1V464.9h-1zM398 468.6h1V475.1h-1zM404 458.9h3V462.2h-3zM405 452.5h1V458.9h-1zM405 462.2h1V462.6h-1zM408 462.1h3V463.3h-3zM415 462.3h3V463.5h-3zM419 464.0h3V468.7h-3zM420 460.4h1V464.0h-1zM423 469.0h3V470.9h-3zM424 460.4h1V469.0h-1zM426 471.8h3V481.5h-3zM427 469.9h1V471.8h-1zM430 483.2h3V486.5h-3zM431 479.1h1V483.2h-1zM434 488.3h3V495.7h-3zM437 499.1h3V500.3h-3zM438 500.3h1V506.7h-1zM441 498.1h3V505.8h-3zM442 497.2h1V498.1h-1zM442 505.8h1V509.9h-1zM448 499.0h3V509.5h-3zM449 487.4h1V499.0h-1zM452 514.9h3V516.1h-3zM453 509.5h1V514.9h-1zM453 516.1h1V524.8h-1zM474 488.9h3V491.1h-3zM475 484.3h1V488.9h-1zM475 491.1h1V492.0h-1zM481 483.7h3V486.5h-3zM482 478.2h1V483.7h-1zM482 486.5h1V488.3h-1zM485 485.2h3V495.7h-3zM503 459.3h3V463.5h-3zM504 450.1h1V459.3h-1zM504 463.5h1V471.8h-1zM507 461.3h3V468.5h-3zM508 457.1h1V461.3h-1zM508 468.5h1V470.9h-1zM510 468.1h3V478.8h-3zM511 466.3h1V468.1h-1zM511 478.8h1V484.7h-1zM514 476.4h3V497.5h-3zM515 497.5h1V500.9h-1zM525 487.4h3V515.0h-3zM526 515.0h1V516.9h-1zM529 515.0h3V517.8h-3zM530 509.5h1V515.0h-1zM530 517.8h1V521.5h-1zM551 492.9h3V503.6h-3zM552 491.1h1V492.9h-1zM554 504.9h3V508.6h-3zM555 500.3h1V504.9h-1zM555 508.6h1V516.9h-1zM558 509.1h3V525.7h-3zM559 504.9h1V509.1h-1zM559 525.7h1V532.5h-1zM569 514.1h3V519.6h-3zM570 511.9h1V514.1h-1zM570 519.6h1V522.9h-1zM576 513.7h3V525.2h-3zM577 511.3h1V513.7h-1zM577 525.2h1V527.9h-1zM580 525.8h3V527.0h-3zM581 520.2h1V525.8h-1zM581 527.0h1V532.7h-1zM583 509.5h3V512.1h-3zM584 507.3h1V509.5h-1zM584 512.1h1V517.4h-1zM587 511.3h3V515.6h-3zM588 506.0h1V511.3h-1zM588 515.6h1V522.0h-1zM591 513.7h3V524.4h-3zM598 503.6h3V510.6h-3zM599 499.0h1V503.6h-1zM602 506.7h3V507.9h-3zM603 500.3h1V506.7h-1zM603 507.9h1V513.7h-1zM624 437.3h3V444.7h-3zM625 434.0h1V437.3h-1zM625 444.7h1V447.5h-1zM635 413.0h3V423.5h-3zM636 423.5h1V428.5h-1zM638 423.2h3V427.8h-3zM639 427.8h1V436.4h-1zM642 427.2h3V443.8h-3zM643 421.1h1V427.2h-1zM643 443.8h1V445.6h-1zM646 444.7h3V456.3h-3zM647 441.9h1V444.7h-1zM647 456.3h1V462.7h-1zM664 417.1h3V421.7h-3zM665 409.2h1V417.1h-1zM665 421.7h1V425.4h-1zM668 426.7h3V429.6h-3zM669 425.4h1V426.7h-1zM669 429.6h1V430.0h-1zM675 415.2h3V430.9h-3zM676 410.1h1V415.2h-1zM676 430.9h1V437.3h-1zM679 428.1h3V442.5h-3zM680 442.5h1V453.9h-1zM693 423.9h3V429.6h-3zM694 421.1h1V423.9h-1zM694 429.6h1V435.9h-1zM697 433.7h3V440.6h-3zM698 432.7h1V433.7h-1zM700 438.3h3V440.5h-3zM701 434.6h1V438.3h-1zM701 440.5h1V448.7h-1zM704 439.2h3V444.7h-3zM705 438.3h1V439.2h-1zM705 444.7h1V446.9h-1zM711 448.9h3V454.8h-3zM712 448.4h1V448.9h-1zM712 454.8h1V457.6h-1zM715 453.9h3V458.5h-3zM716 448.4h1V453.9h-1zM716 458.5h1V460.9h-1zM719 458.1h3V468.6h-3zM722 467.1h3V483.7h-3zM723 464.6h1V467.1h-1zM726 479.8h3V481.0h-3zM727 474.5h1V479.8h-1zM727 481.0h1V486.7h-1zM733 446.5h3V451.1h-3zM734 442.5h1V446.5h-1zM734 451.1h1V457.6h-1zM741 436.3h3V440.0h-3zM742 429.4h1V436.3h-1zM752 410.0h3V413.7h-3zM753 407.5h1V410.0h-1zM753 413.7h1V423.5h-1zM770 398.1h3V417.0h-3zM771 397.1h1V398.1h-1zM774 414.3h3V432.7h-3zM775 410.6h1V414.3h-1zM777 431.7h3V445.6h-3zM778 430.3h1V431.7h-1zM781 436.0h3V439.1h-3zM782 430.8h1V436.0h-1zM782 439.1h1V440.0h-1zM788 426.2h3V434.5h-3zM789 414.3h1V426.2h-1zM796 423.5h3V427.1h-3zM797 419.2h1V423.5h-1zM797 427.1h1V431.7h-1zM817 366.4h3V372.9h-3zM818 358.5h1V366.4h-1zM818 372.9h1V373.8h-1zM825 332.7h3V360.9h-3zM832 362.2h3V367.7h-3zM833 361.3h1V362.2h-1zM833 367.7h1V373.8h-1zM836 374.5h3V375.7h-3zM837 375.7h1V379.8h-1zM843 372.3h3V376.5h-3zM844 369.2h1V372.3h-1zM844 376.5h1V383.5h-1zM847 373.2h3V381.1h-3zM848 371.0h1V373.2h-1zM848 381.1h1V386.7h-1zM850 379.8h3V384.8h-3zM851 376.5h1V379.8h-1zM851 384.8h1V386.7h-1zM858 382.6h3V402.7h-3zM859 380.2h1V382.6h-1zM861 409.3h3V411.5h-3zM862 398.3h1V409.3h-1zM865 408.2h3V415.2h-3zM866 406.0h1V408.2h-1zM866 415.2h1V417.9h-1zM869 414.3h3V419.8h-3zM870 410.6h1V414.3h-1zM870 419.8h1V425.9h-1zM880 409.3h3V412.4h-3zM881 408.2h1V409.3h-1zM881 412.4h1V424.0h-1zM887 386.3h3V389.4h-3zM888 379.3h1V386.3h-1zM888 389.4h1V394.0h-1zM891 389.4h3V397.1h-3zM892 389.0h1V389.4h-1zM892 397.1h1V398.6h-1zM894 396.8h3V401.4h-3zM895 394.6h1V396.8h-1zM895 401.4h1V404.5h-1zM898 396.8h3V403.2h-3zM905 398.6h3V414.8h-3zM906 397.1h1V398.6h-1zM906 414.8h1V417.6h-1zM909 414.3h3V417.9h-3zM910 409.3h1V414.3h-1zM910 417.9h1V422.5h-1zM913 414.8h3V423.5h-3zM914 410.6h1V414.8h-1zM914 423.5h1V425.9h-1zM916 432.1h3V435.8h-3zM917 424.4h1V432.1h-1zM917 435.8h1V439.5h-1zM927 412.5h3V413.7h-3zM928 405.1h1V412.5h-1zM928 413.7h1V414.7h-1zM938 396.4h3V398.1h-3zM939 389.1h1V396.4h-1zM939 398.1h1V399.0h-1zM942 396.3h3V398.7h-3zM943 389.1h1V396.3h-1zM943 398.7h1V399.0h-1zM945 396.8h3V406.9h-3zM946 394.0h1V396.8h-1zM946 406.9h1V409.7h-1zM956 399.0h3V405.5h-3zM957 394.0h1V399.0h-1zM960 403.3h3V419.8h-3zM961 419.8h1V421.7h-1zM971 411.9h3V420.7h-3zM972 408.2h1V411.9h-1zM978 410.1h3V416.7h-3zM979 408.8h1V410.1h-1zM979 416.7h1V420.7h-1zM986 394.0h3V398.7h-3zM987 385.4h1V394.0h-1zM987 398.7h1V400.9h-1zM997 389.8h3V397.4h-3zM998 387.2h1V389.8h-1zM998 397.4h1V398.7h-1zM1000 395.9h3V403.3h-3zM1001 395.3h1V395.9h-1zM1001 403.3h1V406.6h-1zM1004 408.8h3V414.7h-3zM1005 406.9h1V408.8h-1zM1011 398.1h3V406.0h-3zM1012 396.8h1V398.1h-1zM1012 406.0h1V407.9h-1zM1015 404.2h3V414.7h-3zM1016 402.3h1V404.2h-1zM1019 413.4h3V418.5h-3zM1020 411.2h1V413.4h-1zM1020 418.5h1V425.9h-1zM1022 418.0h3V425.9h-3zM1023 416.1h1V418.0h-1zM1023 425.9h1V428.5h-1zM1026 426.0h3V427.2h-3zM1027 422.6h1V426.0h-1zM1027 427.2h1V431.8h-1zM1029 424.0h3V430.9h-3zM1033 430.9h3V433.6h-3zM1034 427.2h1V430.9h-1zM1037 435.2h3V436.4h-3zM1038 433.1h1V435.2h-1zM1038 436.4h1V441.0h-1zM1044 433.6h3V445.0h-3zM1045 432.1h1V433.6h-1zM1045 445.0h1V448.0h-1zM1048 432.1h3V439.1h-3zM1049 439.1h1V440.1h-1zM1055 433.6h3V445.6h-3zM1059 445.6h3V463.6h-3zM1060 442.5h1V445.6h-1zM1062 471.0h3V474.7h-3zM1063 469.0h1V471.0h-1zM1070 471.7h3V472.9h-3zM1071 467.3h1V471.7h-1zM1071 472.9h1V474.1h-1zM1092 443.4h3V446.4h-3zM1093 442.1h1V443.4h-1zM1093 446.4h1V446.7h-1zM1095 445.8h3V447.0h-3zM1099 449.9h3V458.7h-3zM1100 446.4h1V449.9h-1zM1103 460.9h3V462.1h-3zM1110 460.0h3V467.9h-3zM1111 456.3h1V460.0h-1zM1111 467.9h1V468.8h-1zM1128 418.2h3V421.0h-3zM1129 415.8h1V418.2h-1zM1129 421.0h1V425.6h-1zM1132 419.1h3V428.3h-3zM1133 415.8h1V419.1h-1zM1133 428.3h1V432.9h-1zM1154 386.0h3V397.6h-3zM1157 399.8h3V407.7h-3zM1161 402.9h3V407.7h-3zM1162 399.3h1V402.9h-1zM1165 408.7h3V418.8h-3zM1172 404.8h3V407.7h-3zM1173 397.1h1V404.8h-1zM1176 406.3h3V419.5h-3zM1179 418.2h3V425.6h-3zM1201 358.0h3V363.6h-3zM1202 356.2h1V358.0h-1z" fill="#ff0000"/>
</g>
<path d="M299.6 274.2L1290.5 382.6" stroke="#1c2030" stroke-width="2.2" stroke-linecap="round" fill="none"/>
<path d="M1183.2 375.1H1693.5" stroke="#1c2030" stroke-width="2.2" fill="none"/>
<path d="M1205.2 153H1693.5" stroke="#1c2030" stroke-width="2.2" fill="none"/>
<path d="M1205.6 348.4L1227.6 374.4L1290 151.2" stroke="#000" stroke-width="3.2" stroke-linecap="round" stroke-linejoin="miter" fill="none"/>
<circle cx="1205.9" cy="356.5" r="1.6" fill="#26c6da"/><circle cx="1220.4" cy="372.8" r="1.6" fill="#26c6da"/>
<path d="M14 730.1H25V743.3H19.2V735H14z M34.6 730.1H41.3L36.3 743.3H29.8z" fill="#131722"/><circle cx="29.45" cy="732.9" r="2.75" fill="#131722"/>
</svg>
<div style="position:absolute;left:1694px;top:15px;width:96px;height:660px;overflow:hidden">
<div class="pl" style="left:11.8px;top:-7.5px">70,000</div>
<div class="pl" style="left:11.8px;top:36.6px">50,000</div>
<div class="pl" style="left:11.8px;top:88.7px">34,000</div>
<div class="pl" style="left:11.8px;top:134.6px">24,000</div>
<div class="pl" style="left:11.8px;top:188.3px">16,000</div>
<div class="pl" style="left:11.8px;top:237.3px">11,000</div>
<div class="pl" style="left:11.8px;top:279.5px">8,000</div>
<div class="pl" style="left:11.8px;top:329.4px">5,500</div>
<div class="pl" style="left:11.8px;top:375.3px">3,800</div>
<div class="pl" style="left:11.8px;top:426.3px">2,650</div>
<div class="pl" style="left:11.8px;top:474.2px">1,850</div>
<div class="pl" style="left:11.8px;top:515.5px">1,350</div>
<div class="pl" style="left:11.8px;top:563.3px">950</div>
<div class="pl" style="left:11.8px;top:608.6px">650</div>
</div>
<div class="tag" style="top:142.1px;height:22.6px;line-height:22.6px;width:67.7px;background:#2a2e39;letter-spacing:0.3px">24,938</div>
<div class="tag" style="top:352.1px;height:22.8px;line-height:22.8px;width:59.8px;background:#ff0000;letter-spacing:0.4px">5,120</div>
<div class="tag" style="top:375.2px;height:22.7px;line-height:22.7px;width:59.8px;background:#2a2e39;letter-spacing:0.4px">4,655</div>
<div class="tag" style="top:399.1px;height:22.7px;line-height:22.7px;width:59.8px;background:#2962ff;letter-spacing:0.4px">4,231</div>
<div class="tag" style="top:421.8px;height:22.9px;line-height:22.9px;width:59.8px;background:#2196f3;letter-spacing:0.4px">3,880</div>
<div class="tag" style="top:624.9px;height:22.7px;line-height:25.9px;width:90.3px;background:#f7525f;letter-spacing:0.25px">371.019M</div>
<div class="yr" style="left:193.8px">2020</div>
<div class="yr" style="left:384.1px">2021</div>
<div class="yr" style="left:570.8px">2022</div>
<div class="yr" style="left:764.9px">2023</div>
<div class="yr" style="left:954.6px">2024</div>
<div class="yr" style="left:1144.9px">2025</div>
<div class="yr" style="left:1334.8px">2026</div>
<div class="yr" style="left:1524.9px">2027</div>
<div class="lg" style="left:28.6px;top:26.7px;color:#131722;"><span dir="ltr">1 · </span></div>
<div class="lg" style="left:44px;top:23.7px;color:#131722;font-family:&quot;DejaVu Sans&quot;,sans-serif;font-size:14px;line-height:22px" dir="rtl">سر. سایپا</div>
<div class="lg" style="left:98px;top:26.7px;color:#131722;">W</div>
<div class="lg" style="left:122.5px;top:26.7px;color:#131722;">O</div>
<div class="lg" style="left:132.3px;top:26.7px;color:#ff0000;">5,300</div>
<div class="lg" style="left:183.5px;top:26.7px;color:#131722;">H</div>
<div class="lg" style="left:193.6px;top:26.7px;color:#ff0000;">5,390</div>
<div class="lg" style="left:26px;top:50.5px;color:#131722;">Volume</div>
<div class="lg" style="left:90.5px;top:50.5px;color:#f7525f;letter-spacing:0.3px;">371.019M</div>
<div class="lg" style="left:26px;top:74.4px;color:#131722;">EMA (20, close, 0)</div>
<div class="lg" style="left:168.3px;top:74.4px;color:#2196f3;">3,880</div>
<div class="lg" style="left:26px;top:98.2px;color:#131722;">EMA (10, close, 0)</div>
<div class="fade" style="left:10px;top:10px;width:233px;height:51.4px;opacity:0.8"></div>
<div class="fade" style="left:12px;top:61.4px;width:231px;height:21.6px;opacity:0.96"></div>
<div class="fade" style="left:12px;top:83px;width:231px;height:15px;opacity:0.8"></div>
<div class="fade" style="left:12px;top:98px;width:148px;height:38px;opacity:0.8"></div>
<div class="fade" style="left:8px;top:138px;width:170px;height:38px;opacity:0.95"></div>
<div class="lg" style="left:244.4px;top:26.7px;color:#131722;">L</div>
<div class="lg" style="left:253.5px;top:26.7px;color:#ff0000;">5,110</div>
<div class="lg" style="left:303.2px;top:26.7px;color:#131722;transform:scaleX(0.85);transform-origin:0 0;">C</div>
<div class="lg" style="left:313.6px;top:26.7px;color:#ff0000;">5,120</div>
<div class="lg" style="left:364.4px;top:26.7px;color:#ff0000;">−82</div>
<div class="lg" style="left:396.3px;top:26.7px;color:#ff0000;letter-spacing:-0.6px;">(−1.58%)</div>
<div class="lg" style="left:168.3px;top:98.2px;color:#2962ff;">4,231</div>
<div class="ov fa" id="p1" dir="rtl" style="left:10px;top:23.5px;font-size:16.15px;line-height:30px;transform-origin:0 50%;transform:scaleY(1.08)">وساپا (سر. سایپا) / سرمایه گذاریها</div>
<div class="ov fa" id="p2" dir="rtl" style="left:10px;top:64px;font-size:16.15px;line-height:30px">یک هفته / آخرین قیمت / بدون تعدیل</div>
<div class="ov" id="p3" style="left:9px;top:109.0px;font-size:20px;line-height:23px">1404/02/06 19:55</div>
<div class="ov" id="p4" style="left:9px;top:145.1px;font-size:20px;line-height:23px">Bours_daryeknegah</div>
<div class="abs" id="tv" style="left:46.4px;top:727.1px;font-size:17.3px;line-height:20px;color:#131722;letter-spacing:0.2px;-webkit-text-stroke:0.3px #131722">TradingView</div>
</div></body></html>
